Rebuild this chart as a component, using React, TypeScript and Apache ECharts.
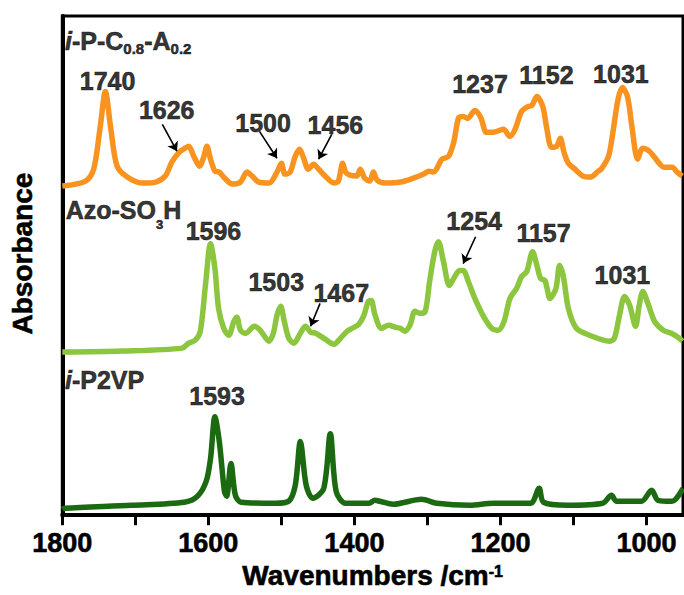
import React, { useEffect, useRef } from "react";
import * as echarts from "echarts";

const FONT = '"Liberation Sans", Arial, Helvetica, sans-serif';

// ---- spectra (wavenumber, absorbance a.u. incl. vertical offset) ----
const blendWn = [1800, 1768, 1757, 1748, 1741, 1734, 1725, 1711, 1691, 1672, 1659, 1650, 1640, 1634, 1627, 1620, 1612, 1606, 1602, 1597, 1591, 1585, 1579, 1567, 1556, 1547, 1540, 1531, 1517, 1506, 1500, 1495, 1488, 1481, 1475, 1470, 1463, 1456, 1449, 1440, 1428, 1422, 1416, 1412, 1406, 1397, 1392, 1386, 1379, 1374, 1369, 1358, 1337, 1319, 1305, 1298, 1292, 1280, 1271, 1264, 1257, 1251, 1245, 1235, 1227, 1219, 1210, 1196, 1187, 1180, 1171, 1162, 1157, 1150, 1142, 1137, 1130, 1123, 1118, 1113, 1107, 1098, 1087, 1077, 1066, 1062, 1052, 1046, 1039, 1033, 1026, 1020, 1012, 1005, 996, 987, 976, 965, 958, 951];
const blendAbs = [3.31, 3.36, 3.48, 3.91, 4.26, 3.91, 3.51, 3.4, 3.34, 3.35, 3.41, 3.55, 3.65, 3.68, 3.71, 3.61, 3.51, 3.61, 3.71, 3.58, 3.46, 3.45, 3.4, 3.33, 3.35, 3.45, 3.41, 3.35, 3.34, 3.45, 3.54, 3.43, 3.45, 3.61, 3.68, 3.6, 3.48, 3.53, 3.48, 3.41, 3.34, 3.36, 3.54, 3.45, 3.42, 3.41, 3.48, 3.39, 3.36, 3.45, 3.37, 3.34, 3.35, 3.39, 3.43, 3.46, 3.45, 3.58, 3.61, 3.75, 4.0, 4.01, 3.99, 4.07, 4.0, 3.85, 3.85, 3.88, 3.81, 3.88, 4.06, 4.11, 4.12, 4.21, 4.11, 3.91, 3.7, 3.71, 3.79, 3.65, 3.54, 3.48, 3.41, 3.4, 3.46, 3.48, 3.61, 3.85, 4.18, 4.3, 4.21, 3.91, 3.58, 3.69, 3.66, 3.58, 3.5, 3.5, 3.45, 3.41];

const azoWn = [1800, 1718, 1636, 1627, 1618, 1611, 1604, 1597, 1591, 1586, 1579, 1572, 1565, 1561, 1556, 1549, 1537, 1529, 1517, 1511, 1506, 1501, 1496, 1490, 1483, 1474, 1467, 1460, 1453, 1440, 1428, 1419, 1410, 1403, 1394, 1387, 1381, 1377, 1372, 1363, 1353, 1344, 1337, 1331, 1324, 1317, 1310, 1303, 1297, 1290, 1285, 1278, 1270, 1264, 1256, 1251, 1244, 1235, 1224, 1212, 1203, 1195, 1187, 1178, 1171, 1164, 1156, 1150, 1145, 1139, 1132, 1124, 1119, 1114, 1107, 1096, 1078, 1051, 1044, 1037, 1030, 1023, 1015, 1010, 1005, 998, 989, 977, 966, 955, 951];
const azoAbs = [1.64, 1.65, 1.68, 1.73, 1.76, 1.85, 2.31, 2.73, 2.48, 2.08, 1.88, 1.81, 1.95, 1.99, 1.86, 1.83, 1.9, 1.86, 1.75, 1.83, 2.01, 2.1, 1.95, 1.78, 1.73, 1.83, 1.9, 1.84, 1.83, 1.77, 1.72, 1.78, 1.85, 1.88, 1.92, 2.01, 2.15, 2.16, 2.02, 1.88, 1.91, 1.89, 1.88, 1.85, 1.91, 2.05, 2.03, 2.05, 2.35, 2.65, 2.75, 2.55, 2.31, 2.38, 2.46, 2.46, 2.35, 2.18, 2.01, 1.88, 1.86, 1.95, 2.18, 2.28, 2.4, 2.45, 2.65, 2.51, 2.38, 2.36, 2.18, 2.28, 2.51, 2.41, 2.08, 1.88, 1.81, 1.75, 1.78, 2.01, 2.2, 2.11, 1.9, 2.11, 2.25, 2.13, 1.95, 1.86, 1.83, 1.78, 1.75];

const p2vpWn = [1800, 1797, 1705, 1633, 1615, 1603, 1597, 1591, 1585, 1578, 1575, 1569, 1563, 1555, 1508, 1490, 1481, 1474, 1466, 1457, 1442, 1433, 1425, 1412, 1380, 1372, 1365, 1347, 1308, 1287, 1242, 1210, 1159, 1147, 1141, 1108, 1060, 1048, 1041, 1007, 993, 984, 965, 950];
const p2vpAbs = [0.06, 0.07, 0.1, 0.13, 0.19, 0.34, 0.57, 0.99, 0.74, 0.24, 0.19, 0.52, 0.2, 0.13, 0.12, 0.14, 0.3, 0.74, 0.3, 0.17, 0.27, 0.82, 0.24, 0.12, 0.12, 0.15, 0.14, 0.11, 0.16, 0.12, 0.1, 0.12, 0.12, 0.27, 0.13, 0.1, 0.12, 0.2, 0.14, 0.14, 0.25, 0.15, 0.14, 0.27];

// ---- annotations ----
const peakText = ["1740", "1626", "1500", "1456", "1237", "1152", "1031", "1596", "1503", "1467", "1254", "1157", "1031", "1593"];
const peakWn = [1738, 1657, 1525, 1426, 1228, 1137, 1035, 1593, 1507, 1418, 1236, 1141, 1033, 1588];
const peakAbs = [4.37, 4.07, 3.94, 3.92, 4.34, 4.43, 4.44, 2.86, 2.35, 2.23, 2.96, 2.84, 2.42, 1.2];

const arrowFromWn = [1663, 1530, 1431, 1447, 1234];
const arrowFromAbs = [3.93, 3.86, 3.83, 2.13, 2.8];
const arrowToWn = [1643, 1506, 1449, 1460, 1251];
const arrowToAbs = [3.66, 3.59, 3.58, 1.9, 2.53];

const sampleNames = [
  "{it|i}{b|-P-C}{s|0.8}{b|-A}{s|0.2}",
  "{b|Azo-SO}{s3|3}{b|H}",
  "{it|i}{b|-P2VP}",
];
const sampleWn = [1797, 1796, 1797];
const sampleAbs = [4.75, 3.05, 1.34];

const tickValues = [1000, 1100, 1200, 1300, 1400, 1500, 1600, 1700, 1800];
const labelValues = [1000, 1200, 1400, 1600, 1800];

const colors = ["#F7931E", "#8CC63F", "#1B6A12"];

function pairs(x: number[], y: number[]) {
  return x.map((v, i) => [v, y[i]]);
}

const heavy = { textBorderColor: "#000", textBorderWidth: 0.6 };

export default function App() {
  const ref = useRef<HTMLDivElement>(null);
  useEffect(() => {
    document.body.style.margin = "0";
    const chart = echarts.init(ref.current!, null, { renderer: "svg" });
    const lineSeries = [
      { name: "i-P-C0.8-A0.2", data: pairs(blendWn, blendAbs), color: colors[0] },
      { name: "Azo-SO3H", data: pairs(azoWn, azoAbs), color: colors[1] },
      { name: "i-P2VP", data: pairs(p2vpWn, p2vpAbs), color: colors[2] },
    ].map((s) => ({
      type: "line",
      name: s.name,
      data: s.data,
      showSymbol: false,
      smooth: 0.3,
      lineStyle: { color: s.color, width: 5.5 },
      itemStyle: { color: s.color },
      z: 2,
    }));
    const subRich = {
      it: { fontFamily: FONT, fontSize: 25, fontWeight: "bold", fontStyle: "italic", color: "#000", lineHeight: 29, verticalAlign: "top", ...heavy },
      b: { fontFamily: FONT, fontSize: 25, fontWeight: "bold", color: "#000", lineHeight: 29, verticalAlign: "top", ...heavy },
      s: { fontFamily: FONT, fontSize: 15, fontWeight: "bold", color: "#000", lineHeight: 15, verticalAlign: "top", padding: [13, 0, 0, 0], ...heavy },
      s3: { fontFamily: FONT, fontSize: 13, fontWeight: "bold", color: "#000", lineHeight: 13, verticalAlign: "top", padding: [21, 0, 0, 0], ...heavy },
    };
    chart.setOption({
      animation: false,
      backgroundColor: "#fff",
      grid: { left: 62, right: 1, top: 16, bottom: 77, show: true, borderColor: "#000", borderWidth: 3, backgroundColor: "transparent" },
      xAxis: {
        type: "value",
        min: 950,
        max: 1800,
        interval: 50,
        inverse: true,
        axisLine: { show: true, onZero: false, lineStyle: { color: "#000", width: 4 } },
        axisTick: { show: true, customValues: tickValues, length: 10, inside: false, lineStyle: { color: "#000", width: 3 } },
        axisLabel: { customValues: labelValues, formatter: (v: number) => String(v), margin: 14, fontSize: 27, fontWeight: "bold", color: "#000", fontFamily: FONT, ...heavy },
        splitLine: { show: false },
        name: "{a|Wavenumbers /cm}{sup|-1}",
        nameLocation: "middle",
        nameGap: 44,
        nameTextStyle: {
          rich: {
            a: { fontFamily: FONT, fontSize: 28, fontWeight: "bold", color: "#000", lineHeight: 32, verticalAlign: "top", ...heavy },
            sup: { fontFamily: FONT, fontSize: 16, fontWeight: "bold", color: "#000", lineHeight: 16, verticalAlign: "top", padding: [2, 0, 0, 0], ...heavy },
          },
        },
      },
      yAxis: {
        type: "value",
        min: 0,
        max: 5.02,
        axisLine: { show: true, lineStyle: { color: "#000", width: 4 } },
        axisTick: { show: false },
        axisLabel: { show: false },
        splitLine: { show: false },
        name: "Absorbance",
        nameLocation: "middle",
        nameGap: 26,
        nameTextStyle: { fontFamily: FONT, fontSize: 28, fontWeight: "bold", color: "#000", padding: [0, 0, 0, 24], ...heavy },
      },
      series: [
        ...lineSeries,
        {
          type: "scatter",
          name: "peaks",
          symbolSize: 1,
          itemStyle: { color: "rgba(0,0,0,0)" },
          silent: true,
          z: 5,
          data: peakText.map((t, i) => ({ value: [peakWn[i], peakAbs[i]], label: { formatter: t } })),
          label: { show: true, position: "inside", fontFamily: FONT, fontSize: 25, fontWeight: "bold", color: "#000", ...heavy },
        },
        {
          type: "scatter",
          name: "samples",
          symbolSize: 1,
          itemStyle: { color: "rgba(0,0,0,0)" },
          silent: true,
          z: 5,
          data: sampleNames.map((t, i) => ({ value: [sampleWn[i], sampleAbs[i]], label: { formatter: t } })),
          label: { show: true, position: "right", distance: 0, rich: subRich },
        },
        {
          type: "lines",
          coordinateSystem: "cartesian2d",
          silent: true,
          z: 6,
          symbol: ["none", "arrow"],
          symbolSize: 9,
          lineStyle: { color: "#000", width: 1.6, opacity: 1 },
          data: arrowFromWn.map((w, i) => ({ coords: [[w, arrowFromAbs[i]], [arrowToWn[i], arrowToAbs[i]]] })),
        },
      ],
    });
    return () => chart.dispose();
  }, []);
  return <div ref={ref} style={{ width: 684, height: 595 }} />;
}
